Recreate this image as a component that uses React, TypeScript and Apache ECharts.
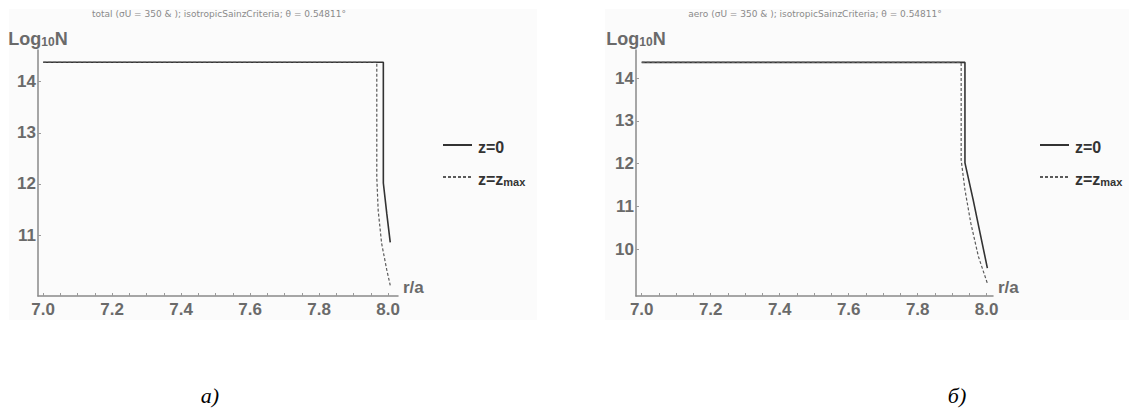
import React, { useEffect, useRef } from "react";
import * as echarts from "echarts";

// ---- data ----
const xTickValues = [7.0, 7.2, 7.4, 7.6, 7.8, 8.0];
const xMinorTicks = [7.0, 7.05, 7.1, 7.15, 7.2, 7.25, 7.3, 7.35, 7.4, 7.45, 7.5, 7.55, 7.6, 7.65, 7.7, 7.75, 7.8, 7.85, 7.9, 7.95, 8.0];
const yTicksTotal = [11, 12, 13, 14];
const yTicksAero = [10, 11, 12, 13, 14];

// panel a) total
const totalZ0X = [7.0, 7.986, 7.986, 7.996, 8.006];
const totalZ0Y = [14.38, 14.38, 12.02, 11.42, 10.86];
const totalZmaxX = [7.0, 7.967, 7.967, 7.971, 7.981, 7.996, 8.006];
const totalZmaxY = [14.38, 14.38, 12.13, 11.49, 10.84, 10.32, 10.02];

// panel б) aero
const aeroZ0X = [7.0, 7.937, 7.937, 7.961, 7.981, 8.002];
const aeroZ0Y = [14.37, 14.37, 12.02, 11.15, 10.37, 9.56];
const aeroZmaxX = [7.0, 7.926, 7.926, 7.937, 7.954, 7.976, 8.002];
const aeroZmaxY = [14.37, 14.37, 12.09, 11.39, 10.61, 9.83, 9.2];

const seriesNames = ["z=0", "z=zmax"];
const titleTotal = "total (\u03c3U = 350 & ); isotropicSainzCriteria; \u03b8 = 0.54811\u00b0";
const titleAero = "aero (\u03c3U = 350 & ); isotropicSainzCriteria; \u03b8 = 0.54811\u00b0";
const captions = ["\u0430)", "\u0431)"];

const SANS = "'Liberation Sans', Arial, sans-serif";
const SERIF = "'Liberation Serif', 'Times New Roman', serif";
const GRAY = "#6a6a6a";

const zip = (xs: number[], ys: number[]) => xs.map((x, i) => [x, ys[i]]);

function App() {
  const ref = useRef<HTMLDivElement>(null);
  useEffect(() => {
    if (!ref.current) return;
    const chart = echarts.init(ref.current, null, { renderer: "svg" });

    const axisLabelStyle = {
      fontFamily: SANS,
      fontSize: 17,
      fontWeight: "bold" as const,
      color: GRAY,
    };

    const makeX = (gridIndex: number, min: number, max: number) => ({
      type: "value",
      gridIndex,
      min,
      max,
      name: "r/a",
      nameLocation: "end",
      nameGap: 5,
      nameTextStyle: {
        ...axisLabelStyle,
        align: "left",
        verticalAlign: "bottom",
        padding: [0, 0, 0, 0],
      },
      axisLine: { show: true, onZero: false, lineStyle: { color: "#8a8a8a", width: 1.5 } },
      axisTick: { show: true, inside: true, length: 3, customValues: xMinorTicks, lineStyle: { color: "#9a9a9a" } },
      axisLabel: {
        ...axisLabelStyle,
        margin: 5,
        customValues: xTickValues,
        formatter: (v: number) => v.toFixed(1),
      },
      splitLine: { show: false },
    });

    const makeY = (gridIndex: number, min: number, max: number, ticks: number[]) => ({
      type: "value",
      gridIndex,
      min,
      max,
      name: "{a|Log}{b|10}{a|N}",
      nameLocation: "end",
      nameGap: 2,
      nameTextStyle: {
        align: "center",
        verticalAlign: "bottom",
        rich: {
          a: { fontFamily: SANS, fontSize: 18, fontWeight: "bold", color: GRAY, lineHeight: 28, verticalAlign: "bottom" },
          b: { fontFamily: SANS, fontSize: 12, fontWeight: "bold", color: GRAY, lineHeight: 10, verticalAlign: "bottom" },
        },
      },
      axisLine: { show: true, onZero: false, lineStyle: { color: "#8a8a8a", width: 1.5 } },
      axisTick: { show: true, inside: true, length: 3, customValues: ticks, lineStyle: { color: "#9a9a9a" } },
      axisLabel: { ...axisLabelStyle, margin: 2, customValues: ticks },
      splitLine: { show: false },
    });

    const solid = { color: "#333333", width: 1.6, type: "solid" as const };
    const dashed = { color: "#5a5a5a", width: 1.2, type: [3, 2] as any };

    const mkSeries = (name: string, idx: number, data: number[][], ls: any) => ({
      type: "line",
      name,
      xAxisIndex: idx,
      yAxisIndex: idx,
      data,
      symbol: "none",
      showSymbol: false,
      smooth: false,
      lineStyle: ls,
      itemStyle: { color: ls.color },
      z: ls.type === "solid" ? 3 : 4,
    });

    const legendCommon = {
      orient: "vertical",
      top: 134,
      itemWidth: 29,
      itemHeight: 14,
      itemGap: 16,
      data: seriesNames,
      itemStyle: { opacity: 0 },
      formatter: (name: string) => (name === "z=zmax" ? "{n|z=z}{s|max}" : "{n|" + name + "}"),
      textStyle: {
        padding: [0, 0, 0, 1],
        rich: {
          n: { fontFamily: SANS, fontSize: 16, fontWeight: "bold", color: "#333", lineHeight: 20, verticalAlign: "bottom" },
          s: { fontFamily: SANS, fontSize: 11, fontWeight: "bold", color: "#333", lineHeight: 10, verticalAlign: "bottom" },
        },
      },
      selectedMode: false,
    };

    const titleStyle = { fontFamily: "'DejaVu Sans', sans-serif", fontSize: 9, fill: "#8a8a8a", textAlign: "center", textVerticalAlign: "middle" };

    const option: any = {
      animation: false,
      backgroundColor: "#ffffff",
      grid: [
        { left: 38, top: 50, width: 360, height: 246, containLabel: false },
        { left: 636, top: 50, width: 357, height: 246, containLabel: false },
      ],
      xAxis: [makeX(0, 6.985, 8.0285), makeX(1, 6.9835, 8.0183)],
      yAxis: [makeY(0, 9.81, 14.62, yTicksTotal), makeY(1, 8.906, 14.66, yTicksAero)],
      legend: [
        { ...legendCommon, left: 437 },
        { ...legendCommon, left: 1034 },
      ],
      series: [
        mkSeries(seriesNames[0], 0, zip(totalZ0X, totalZ0Y), solid),
        mkSeries(seriesNames[1], 0, zip(totalZmaxX, totalZmaxY), dashed),
        mkSeries(seriesNames[0], 1, zip(aeroZ0X, aeroZ0Y), solid),
        mkSeries(seriesNames[1], 1, zip(aeroZmaxX, aeroZmaxY), dashed),
      ],
      graphic: [
        { type: "rect", silent: true, z: -10, shape: { x: 9, y: 9, width: 528, height: 311 }, style: { fill: "#fbfbfb" } },
        { type: "rect", silent: true, z: -10, shape: { x: 605, y: 9, width: 524, height: 311 }, style: { fill: "#fbfbfb" } },
        { type: "text", x: 219, y: 14, style: { ...titleStyle, text: titleTotal } },
        { type: "text", x: 815, y: 14, style: { ...titleStyle, text: titleAero } },
        { type: "text", x: 210, y: 395, style: { text: captions[0], fontFamily: SERIF, fontStyle: "italic", fontSize: 22, fill: "#000", textAlign: "center", textVerticalAlign: "middle" } },
        { type: "text", x: 957, y: 395, style: { text: captions[1], fontFamily: SERIF, fontStyle: "italic", fontSize: 22, fill: "#000", textAlign: "center", textVerticalAlign: "middle" } },
      ],
    };

    chart.setOption(option);
    return () => chart.dispose();
  }, []);

  return (
    <div
      ref={ref}
      style={{ position: "absolute", left: 0, top: 0, width: 1129, height: 410 }}
    />
  );
}

export default App;
